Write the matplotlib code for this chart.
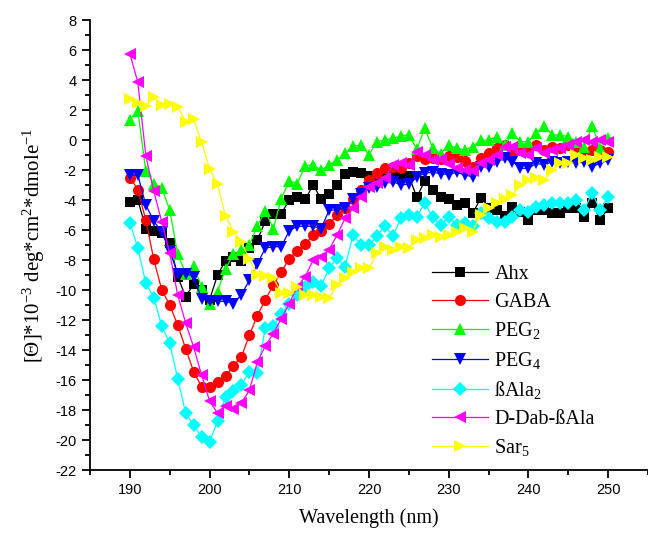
#CD spectra of the linker peptides
import numpy as np
import matplotlib.pyplot as plt
import matplotlib as mpl
from matplotlib.ticker import MultipleLocator

mpl.rcParams['mathtext.fontset'] = 'custom'
mpl.rcParams['mathtext.rm'] = 'Liberation Serif'
mpl.rcParams['mathtext.it'] = 'Liberation Serif:italic'
mpl.rcParams['axes.unicode_minus'] = False

wavelength = np.arange(190, 251)

ahx = [-4.15, -4.0, -5.9, -6.05, -6.2, -6.85, -9.1, -10.45, -9.6, -10.0,
       -10.65, -9.0, -8.05, -7.8, -8.05, -7.2, -6.67, -5.4, -4.9, -4.9,
       -4.0, -3.78, -3.95, -3.0, -3.95, -3.6, -3.0, -2.27, -2.15, -2.2,
       -2.4, -2.4, -2.35, -2.33, -2.33, -2.4, -3.82, -2.71, -3.3, -3.78,
       -3.95, -4.33, -4.22, -4.89, -3.89, -4.55, -4.67, -5.07, -4.45, -4.78,
       -5.33, -4.67, -4.67, -4.89, -4.89, -4.55, -4.55, -5.11, -4.22, -5.33,
       -4.55]
gaba = [-2.5, -3.3, -5.35, -7.95, -10.0, -11.0, -12.33, -13.9, -15.45, -16.45,
        -16.45, -16.15, -15.75, -15.05, -14.45, -13.0, -11.7, -10.65, -9.67, -8.8,
        -7.9, -7.4, -6.95, -6.33, -6.05, -5.62, -5.0, -4.55, -3.9, -3.3,
        -2.67, -2.22, -1.89, -1.78, -1.89, -1.55, -1.07, -1.29, -1.22, -1.29,
        -1.05, -1.1, -1.4, -1.78, -1.22, -0.89, -0.55, -0.33, -0.89, -0.67,
        -0.67, -0.33, -0.67, -0.44, -0.55, -0.33, -0.67, -0.78, -0.67, -0.67,
        -0.78]
peg2 = [1.35, 1.95, -2.05, -2.9, -3.2, -4.67, -7.6, -8.9, -8.4, -9.8,
        -10.9, -10.1, -8.6, -7.6, -7.35, -7.0, -5.7, -4.75, -5.9, -3.9,
        -2.72, -2.9, -1.71, -1.67, -2.0, -1.67, -1.33, -0.89, -0.4, -0.33,
        -1.0, -0.11, 0.0, 0.11, 0.27, 0.33, -0.6, 0.78, -0.55, -0.9,
        -0.33, -0.55, -0.67, -0.44, 0.0, 0.0, 0.22, -0.33, 0.44, -0.11,
        -0.11, 0.49, 0.93, 0.33, 0.33, 0.22, -0.11, -0.44, 0.93, -0.55,
        0.11]
peg4 = [-2.33, -2.33, -4.33, -5.4, -6.15, -7.4, -8.9, -8.9, -9.1, -10.6,
        -10.75, -10.75, -10.75, -10.9, -10.3, -9.35, -8.25, -7.2, -7.12, -7.1,
        -6.05, -5.75, -5.75, -5.75, -5.9, -4.67, -4.67, -4.55, -3.95, -3.6,
        -3.2, -3.15, -2.89, -2.78, -3.0, -2.93, -2.49, -2.2, -2.15, -2.25,
        -2.3, -2.15, -2.33, -2.45, -1.78, -1.78, -1.44, -1.22, -1.44, -1.89,
        -1.89, -1.55, -1.67, -1.44, -1.55, -1.44, -1.55, -1.44, -1.78, -1.55,
        -1.33]
bala2 = [-5.5, -7.2, -9.55, -10.5, -12.4, -13.55, -15.9, -18.2, -19.0, -19.8,
         -20.15, -18.7, -17.1, -16.7, -16.3, -15.45, -15.55, -12.5, -12.4, -11.6,
         -10.9, -10.33, -9.8, -9.45, -9.7, -8.55, -7.85, -8.44, -6.33, -7.0,
         -7.0, -6.4, -5.73, -6.4, -5.22, -5.0, -5.1, -4.22, -5.15, -5.67,
         -5.1, -5.67, -5.55, -5.73, -4.89, -5.22, -5.45, -5.45, -5.1, -4.67,
         -4.78, -4.45, -4.33, -4.22, -4.22, -4.22, -4.0, -4.67, -3.51, -4.67,
         -3.78]
dab_bala = [5.75, 3.85, -1.05, -3.4, -5.45, -7.55, -10.33, -12.2, -13.8, -15.67,
            -17.4, -18.2, -17.7, -17.9, -17.55, -16.67, -14.8, -13.72, -12.9, -11.9,
            -10.9, -9.8, -9.1, -8.0, -7.8, -7.3, -6.33, -5.22, -4.55, -3.78,
            -3.11, -2.84, -2.55, -1.67, -1.55, -1.67, -0.78, -1.0, -1.33, -1.29,
            -1.6, -1.85, -2.0, -2.05, -1.55, -1.33, -1.0, -0.44, -0.44, -0.89,
            -1.0, -0.55, -0.89, -0.67, -0.55, -0.33, -0.11, 0.0, -0.11, 0.0,
            -0.11]
sar5 = [2.73, 2.45, 2.27, 2.85, 2.31, 2.38, 2.22, 1.22, 1.38, -0.15,
        -1.92, -2.95, -5.07, -6.1, -6.8, -7.96, -9.0, -9.07, -9.2, -10.2,
        -10.2, -9.8, -10.33, -10.33, -10.45, -10.55, -9.67, -9.22, -8.78, -8.55,
        -8.55, -7.55, -7.1, -7.33, -7.1, -7.2, -6.67, -6.55, -6.33, -6.44,
        -6.33, -6.1, -5.89, -6.1, -5.0, -4.55, -4.22, -3.95, -3.67, -3.0,
        -2.67, -2.55, -2.67, -2.0, -1.55, -1.55, -1.0, -1.22, -1.33, -1.11,
        -1.11]

series = [
    ('Ahx', ahx, 'black', 's', 7),
    ('GABA', gaba, 'red', 'o', 8),
    ('PEG$_2$', peg2, 'lime', '^', 9),
    ('PEG$_4$', peg4, 'blue', 'v', 9),
    ('ßAla$_2$', bala2, 'cyan', 'D', 7),
    ('D-Dab-ßAla', dab_bala, 'magenta', '<', 9),
    ('Sar$_5$', sar5, 'yellow', '>', 9),
]

fig = plt.figure(figsize=(6.48, 5.46), dpi=100)
ax = fig.add_axes([90 / 648, 1 - 470 / 546, 1 - 90 / 648, 450 / 546])

for label, vals, col, mk, ms in series:
    ax.plot(wavelength, vals, color=col, marker=mk, markersize=ms, lw=0.9,
            markeredgewidth=0, label=label)

ax.set_xlim(185, 255)
ax.set_ylim(-22, 8)
ax.xaxis.set_major_locator(MultipleLocator(10))
ax.xaxis.set_minor_locator(MultipleLocator(5))
ax.yaxis.set_major_locator(MultipleLocator(2))
ax.yaxis.set_minor_locator(MultipleLocator(1))
ax.spines['top'].set_visible(False)
ax.spines['right'].set_visible(False)
for s in ['left', 'bottom']:
    ax.spines[s].set_linewidth(1.3)
ax.tick_params(which='major', direction='out', length=6, width=1.3, labelsize=10.5)
ax.tick_params(which='minor', direction='out', length=3.5, width=1.3)
for t in ax.get_xticklabels() + ax.get_yticklabels():
    t.set_fontfamily('Liberation Sans')

ax.set_xlabel('Wavelength (nm)', family='Liberation Serif', fontsize=14.5, labelpad=8)
ax.set_ylabel('[Θ]*10$^{-3}$ deg*cm$^{2}$*dmole$^{-1}$', family='Liberation Serif',
              fontsize=15, labelpad=6)

ax.legend(loc='upper left', bbox_to_anchor=(432 / 648, 1 - 265 / 546),
          bbox_transform=fig.transFigure, frameon=False, borderpad=0,
          borderaxespad=0, handlelength=2.8, handletextpad=0.3,
          labelspacing=0.42, prop={'family': 'Liberation Serif', 'size': 14.5})

plt.savefig('out.png', dpi=100)
